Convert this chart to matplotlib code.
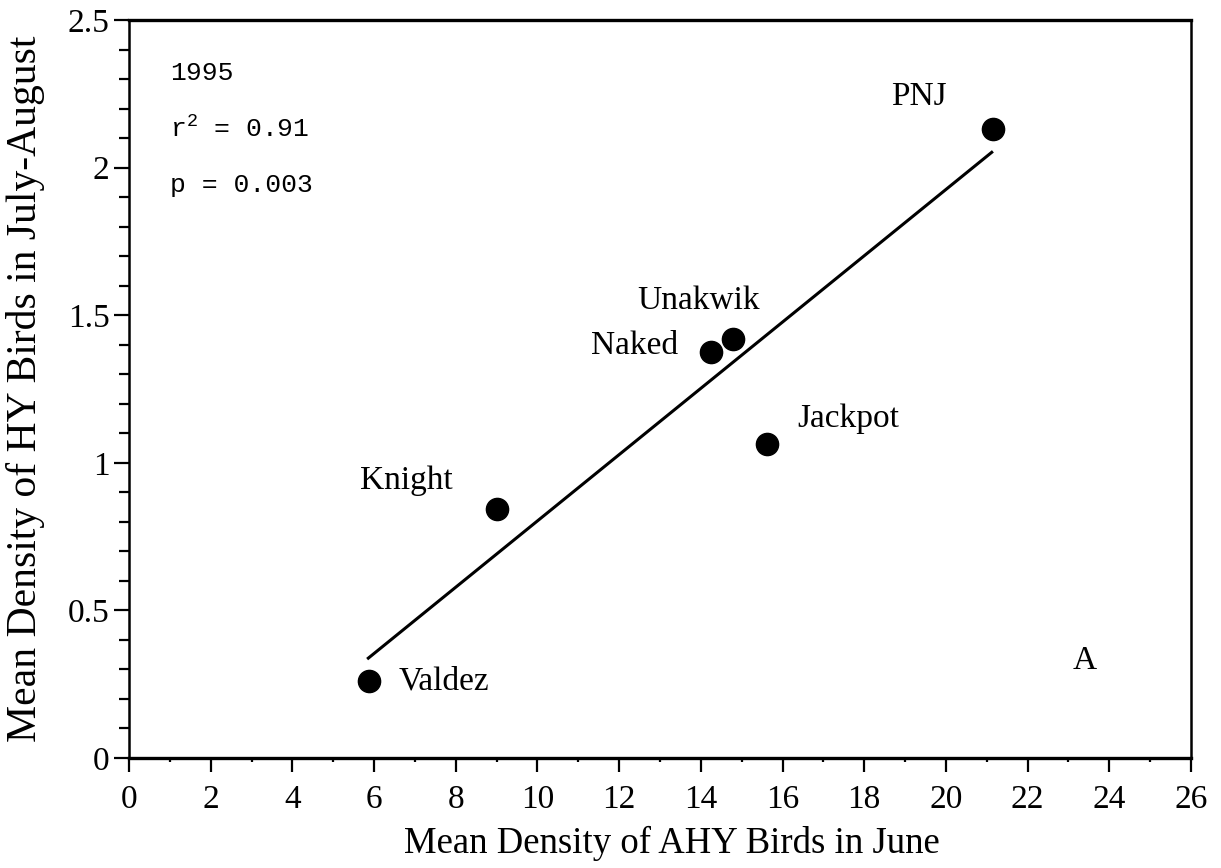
# -*- coding: utf-8 -*-

import matplotlib
matplotlib.use('Agg')
import matplotlib.pyplot as plt
from matplotlib.ticker import MultipleLocator

# site means
sites = ['Valdez', 'Knight', 'Naked', 'Unakwik', 'Jackpot', 'PNJ']
ahy_june = [5.88, 9.02, 14.25, 14.78, 15.62, 21.15]
hy_july_aug = [0.26, 0.845, 1.375, 1.42, 1.065, 2.13]

# regression line end points
fit_x = [5.83, 21.15]
fit_y = [0.335, 2.055]

# where each site label sits (x, y, ha)
label_pos = {
    'Valdez': (6.6, 0.26, 'left'),
    'Knight': (6.8, 0.94, 'center'),
    'Naked': (13.45, 1.395, 'right'),
    'Unakwik': (13.95, 1.55, 'center'),
    'Jackpot': (16.35, 1.15, 'left'),
    'PNJ': (19.35, 2.24, 'center'),
}

stats_lines = ['1995', 'r$^2$ = 0.91', 'p = 0.003']


def main():
    plt.rcParams['font.family'] = ['Liberation Serif', 'DejaVu Serif']
    plt.rcParams['mathtext.default'] = 'regular'

    fig = plt.figure(figsize=(12.21, 8.68), dpi=100)
    ax = fig.add_axes([129 / 1221, 1 - 758 / 868, 1062 / 1221, 738 / 868])

    ax.plot(fit_x, fit_y, color='black', lw=2.2, solid_capstyle='butt')
    ax.plot(ahy_june, hy_july_aug, 'o', color='black', ms=16, mec='black')

    for name in sites:
        x, y, ha = label_pos[name]
        ax.text(x, y, name, ha=ha, va='center', fontsize=24)

    for i, line in enumerate(stats_lines):
        ax.text(1.0, 2.32 - i * 0.19, line, family='Liberation Mono',
                fontsize=19, ha='left', va='center')

    ax.text(23.4, 0.33, 'A', fontsize=24, ha='center', va='center')

    ax.set_xlim(0, 26)
    ax.set_ylim(0, 2.5)
    ax.xaxis.set_major_locator(MultipleLocator(2))
    ax.xaxis.set_minor_locator(MultipleLocator(1))
    ax.yaxis.set_major_locator(MultipleLocator(0.5))
    ax.yaxis.set_minor_locator(MultipleLocator(0.1))
    ax.set_yticks([0, 0.5, 1, 1.5, 2, 2.5])
    ax.set_yticklabels(['0', '0.5', '1', '1.5', '2', '2.5'])

    ax.tick_params(axis='x', which='major', direction='out', length=10,
                   width=1.6, labelsize=24, pad=9)
    ax.tick_params(axis='x', which='minor', direction='out', length=3,
                   width=1.6)
    ax.tick_params(axis='y', which='major', direction='out', length=11,
                   width=1.6, labelsize=24, pad=3)
    ax.tick_params(axis='y', which='minor', direction='out', length=7,
                   width=1.6)

    for side in ['bottom', 'top']:
        ax.spines[side].set_linewidth(2.4)
    for side in ['left', 'right']:
        ax.spines[side].set_linewidth(1.8)

    ax.set_xlabel('Mean Density of AHY Birds in June', fontsize=26.5,
                  labelpad=8)
    ax.xaxis.label.set_x(0.511)
    ax.set_ylabel('Mean Density of HY Birds in July-August', fontsize=30,
                  labelpad=16)

    fig.savefig('out.png', dpi=100)


if __name__ == '__main__':
    main()
